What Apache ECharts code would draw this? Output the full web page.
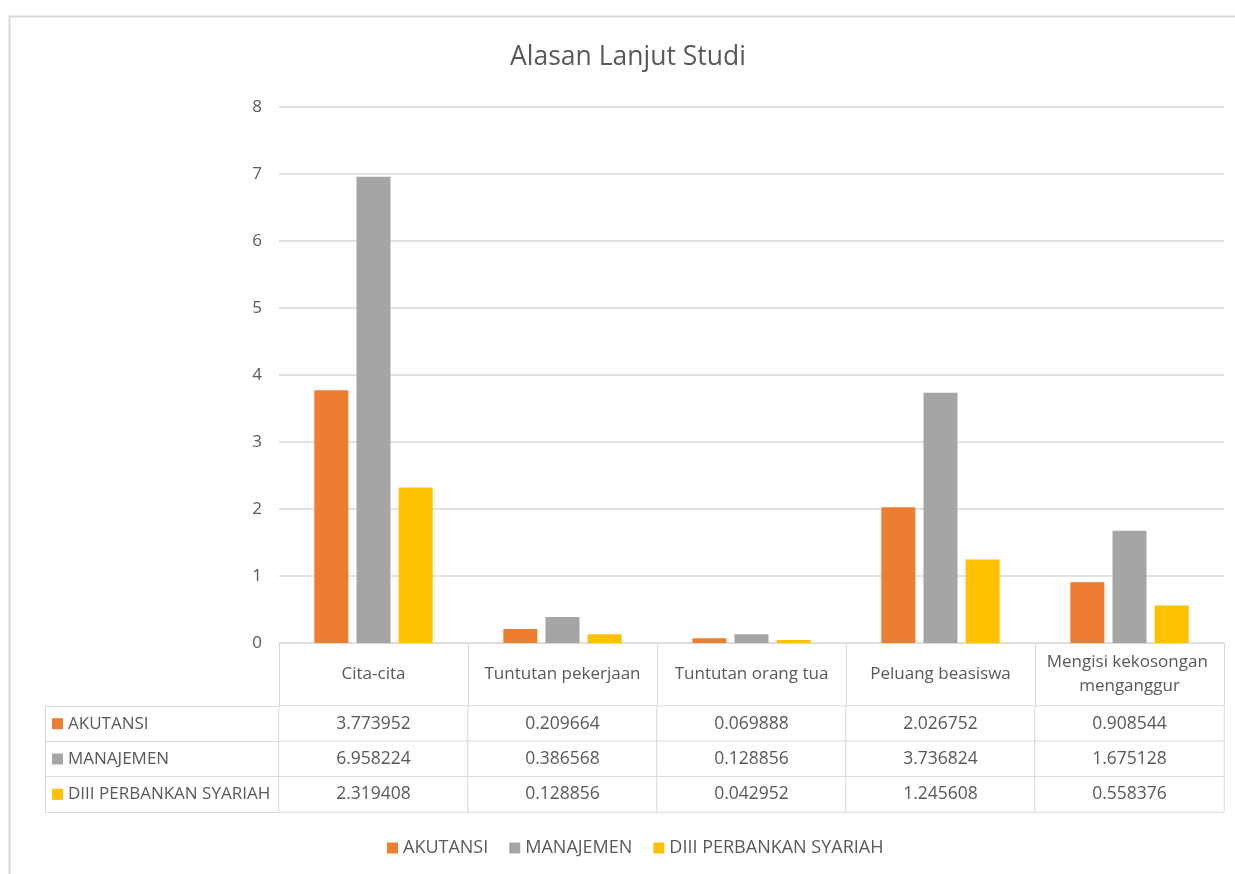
<!DOCTYPE html>
<html>
<head>
<meta charset="utf-8">
<script src="https://cdn.jsdelivr.net/npm/echarts@6/dist/echarts.min.js"></script>
<style>html,body{margin:0;padding:0;background:#fff;}#c{width:1235px;height:874px;}</style>
</head>
<body>
<div id="c"></div>
<script>
const categories = ['Cita-cita', 'Tuntutan pekerjaan', 'Tuntutan orang tua', 'Peluang beasiswa', 'Mengisi kekosongan menganggur'];
const seriesNames = ['AKUTANSI', 'MANAJEMEN', 'DIII PERBANKAN SYARIAH'];
const akutansi = [3.773952, 0.209664, 0.069888, 2.026752, 0.908544];
const manajemen = [6.958224, 0.386568, 0.128856, 3.736824, 1.675128];
const diii = [2.319408, 0.128856, 0.042952, 1.245608, 0.558376];
const colors = ['#ED7D31', '#A5A5A5', '#FFC000'];
const yTicks = [0, 8, 1];

const allValues = [akutansi, manajemen, diii];
const tableData = [];
allValues.forEach((arr, r) => arr.forEach((v, c) => tableData.push([c, r, v])));

const FONT = 'Open Sans';
const TXT = '#595959';
const LINE = '#d9d9d9';

const chart = echarts.init(document.getElementById('c'));
const rich = {};
seriesNames.forEach((n, i) => { rich['s' + i] = { backgroundColor: colors[i], width: 11, height: 11 }; });
rich.t = { color: TXT, fontSize: 17, fontFamily: FONT, padding: [0, 0, 0, 5] };

chart.setOption({
  animation: false,
  textStyle: { fontFamily: FONT },
  title: {
    text: 'Alasan Lanjut Studi', left: 623, top: 39, textAlign: 'center',
    textStyle: { color: TXT, fontSize: 26.5, fontWeight: 'normal', fontFamily: FONT }
  },
  graphic: [{ type: 'rect', left: 7, top: 14, shape: { width: 1240, height: 880 }, style: { fill: 'none', stroke: LINE, lineWidth: 2 }, silent: true, z: -1 }],
  legend: {
    top: 834, left: 382, itemWidth: 11, itemHeight: 11, itemGap: 21, icon: 'rect',
    textStyle: { color: TXT, fontSize: 18, fontFamily: FONT }, data: seriesNames
  },
  grid: [
    { left: 279, right: 11, top: 107, bottom: 231 },
    { left: 279, right: 11, top: 706, bottom: 62 }
  ],
  xAxis: [
    {
      type: 'category', gridIndex: 0, data: categories,
      axisLine: { lineStyle: { color: LINE } },
      axisTick: { show: true, interval: 0, length: 63, lineStyle: { color: LINE } },
      axisLabel: { interval: 0, color: TXT, fontSize: 17, fontFamily: FONT, margin: 31, verticalAlign: 'middle', width: 182, overflow: 'break', lineHeight: 24 }
    },
    {
      type: 'category', gridIndex: 1, data: categories,
      axisLine: { show: false }, axisTick: { show: false }, axisLabel: { show: false }
    }
  ],
  yAxis: [
    {
      type: 'value', gridIndex: 0, min: yTicks[0], max: yTicks[1], interval: yTicks[2],
      axisLine: { show: false }, axisTick: { show: false },
      axisLabel: { color: TXT, fontSize: 17, fontFamily: FONT, margin: 17 },
      splitLine: { lineStyle: { color: LINE, width: 1.5 } }
    },
    {
      type: 'category', gridIndex: 1, data: seriesNames, inverse: true,
      axisLine: { show: true, lineStyle: { color: LINE } },
      axisTick: { show: true, interval: 0, length: 234, lineStyle: { color: LINE } },
      axisLabel: {
        interval: 0, align: 'left', margin: 227,
        formatter: (v) => { const i = seriesNames.indexOf(v); return '{s' + i + '|}{t|' + v + '}'; },
        rich: rich
      }
    },
    {
      type: 'category', gridIndex: 1, data: seriesNames, inverse: true, position: 'left', offset: 234,
      axisLine: { show: true, lineStyle: { color: LINE } },
      axisTick: { show: false }, axisLabel: { show: false }
    }
  ],
  series: [
    ...seriesNames.map((n, i) => ({
      name: n, type: 'bar', xAxisIndex: 0, yAxisIndex: 0,
      data: allValues[i], barWidth: 34, barGap: '24%',
      itemStyle: { color: colors[i] }
    })),
    {
      type: 'heatmap', xAxisIndex: 1, yAxisIndex: 1, data: tableData,
      itemStyle: { color: '#ffffff', borderColor: LINE, borderWidth: 1 },
      label: { show: true, color: TXT, fontSize: 17.5, fontFamily: FONT, formatter: (p) => String(p.value[2]) },
      emphasis: { disabled: true }
    }
  ]
});
</script>
</body>
</html>
